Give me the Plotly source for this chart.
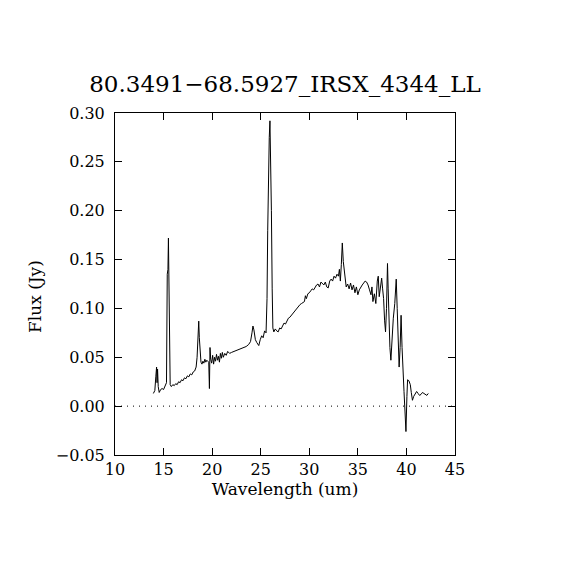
import plotly.graph_objects as go

wavelength = [
    13.95, 14.10, 14.20, 14.28, 14.33, 14.38, 14.45, 14.55, 14.70, 14.85,
    15.00, 15.15, 15.30, 15.38, 15.45, 15.50, 15.56, 15.62, 15.68, 15.80,
    15.95, 16.10, 16.25, 16.40, 16.55, 16.70, 16.85, 17.00, 17.15, 17.30,
    17.45, 17.60, 17.75, 17.90, 18.05, 18.20, 18.35, 18.45, 18.55, 18.62,
    18.68, 18.75, 18.85, 18.95, 19.05, 19.15, 19.25, 19.35, 19.45, 19.55,
    19.65, 19.72, 19.78, 19.85, 19.95, 20.05, 20.15, 20.25, 20.35, 20.45,
    20.55, 20.65, 20.75, 20.85, 20.95, 21.05, 21.15, 21.30, 21.45, 21.60,
    21.80, 22.00, 22.25, 22.50, 22.75, 23.00, 23.25, 23.50, 23.75, 23.95,
    24.10, 24.20, 24.30, 24.45, 24.60, 24.80, 24.95, 25.10, 25.25, 25.40,
    25.55, 25.65, 25.72, 25.80, 25.88, 25.95, 26.02, 26.10, 26.18, 26.25,
    26.35, 26.50, 26.65, 26.80, 26.95, 27.10, 27.25, 27.40, 27.55, 27.70,
    27.85, 28.00, 28.15, 28.30, 28.45, 28.60, 28.75, 28.90, 29.05, 29.20,
    29.35, 29.50, 29.60, 29.70, 29.85, 30.00, 30.15, 30.30, 30.45, 30.60,
    30.75, 30.90, 31.05, 31.20, 31.35, 31.50, 31.65, 31.80, 31.95, 32.10,
    32.25, 32.40, 32.55, 32.70, 32.85, 33.00, 33.10, 33.20, 33.30, 33.40,
    33.50, 33.60, 33.70, 33.80, 33.95, 34.10, 34.25, 34.40, 34.55, 34.70,
    34.85, 35.00, 35.15, 35.30, 35.45, 35.60, 35.75, 35.90, 36.05, 36.20,
    36.35, 36.45, 36.55, 36.70, 36.85, 37.00, 37.10, 37.20, 37.30, 37.45,
    37.55, 37.65, 37.75, 37.85, 37.95, 38.05, 38.12, 38.20, 38.30, 38.40,
    38.50, 38.65, 38.80, 38.95, 39.05, 39.15, 39.25, 39.35, 39.45, 39.55,
    39.65, 39.75, 39.85, 39.95, 40.05, 40.12, 40.25, 40.40, 40.50, 40.62,
    40.75, 40.90, 41.05, 41.20, 41.35, 41.50, 41.65, 41.80, 41.95, 42.10,
    42.25,
]

flux = [
    0.013, 0.016, 0.030, 0.040, 0.024, 0.038, 0.020, 0.014, 0.017, 0.018,
    0.017, 0.020, 0.024, 0.135, 0.140, 0.172, 0.130, 0.060, 0.022, 0.020,
    0.022, 0.021, 0.023, 0.022, 0.025, 0.024, 0.027, 0.026, 0.029, 0.028,
    0.031, 0.030, 0.033, 0.032, 0.035, 0.036, 0.040, 0.050, 0.070, 0.087,
    0.070, 0.055, 0.045, 0.043, 0.046, 0.044, 0.048, 0.045, 0.047, 0.046,
    0.045, 0.018, 0.060, 0.048, 0.044, 0.052, 0.043, 0.050, 0.046, 0.053,
    0.047, 0.051, 0.045, 0.054, 0.049, 0.055, 0.050, 0.054, 0.052, 0.056,
    0.054, 0.055, 0.056, 0.057, 0.058, 0.059, 0.060, 0.061, 0.063, 0.066,
    0.075, 0.082, 0.078, 0.068, 0.065, 0.062, 0.068, 0.072, 0.070, 0.077,
    0.075, 0.110, 0.180, 0.270, 0.275, 0.292, 0.260, 0.200, 0.120, 0.080,
    0.076, 0.079, 0.077, 0.076, 0.080, 0.079, 0.082, 0.085, 0.084, 0.087,
    0.090, 0.091, 0.093, 0.095, 0.097, 0.099, 0.100, 0.102, 0.104, 0.105,
    0.106, 0.107, 0.113, 0.110, 0.115, 0.116, 0.118, 0.120, 0.119, 0.122,
    0.124, 0.125, 0.122, 0.127, 0.125, 0.124, 0.127, 0.122, 0.121, 0.128,
    0.130, 0.128, 0.133, 0.131, 0.135, 0.133, 0.140, 0.128, 0.145, 0.167,
    0.148, 0.140, 0.126, 0.122, 0.125, 0.120, 0.126, 0.119, 0.124, 0.116,
    0.122, 0.114, 0.119, 0.122, 0.124, 0.126, 0.128, 0.127, 0.124, 0.119,
    0.114, 0.122, 0.107, 0.115, 0.105, 0.128, 0.133, 0.112, 0.118, 0.131,
    0.120, 0.110, 0.088, 0.076, 0.100, 0.146, 0.120, 0.074, 0.060, 0.047,
    0.065, 0.090, 0.105, 0.130, 0.100, 0.070, 0.040, 0.060, 0.093, 0.060,
    0.030, 0.015, -0.005, -0.026, 0.010, 0.027, 0.026, 0.022, 0.014, 0.006,
    0.010, 0.013, 0.015, 0.013, 0.011, 0.012, 0.014, 0.013, 0.012, 0.011,
    0.013,
]

title_text = "80.3491\u221268.5927_IRSX_4344_LL"
x_title = "Wavelength (um)"
y_title = "Flux (Jy)"
x_ticks = [10, 15, 20, 25, 30, 35, 40, 45]
y_ticks = [-0.05, 0.00, 0.05, 0.10, 0.15, 0.20, 0.25, 0.30]

FONT = "DejaVu Serif"
OFF = 8  # page body margin offset

fig = go.Figure()
fig.add_trace(go.Scatter(
    x=wavelength, y=flux, mode="lines",
    line=dict(color="black", width=1),
    showlegend=False, hoverinfo="skip",
))

fig.add_shape(type="line", xref="paper", yref="y", x0=0, x1=1, y0=0, y1=0,
              line=dict(color="black", width=1, dash="1px,5px"))

axis_common = dict(
    showline=True, linecolor="black", linewidth=1, mirror="ticks",
    ticks="inside", ticklen=7, tickwidth=1, tickcolor="black",
    showgrid=False, zeroline=False,
    tickfont=dict(family=FONT, size=16, color="black"),
)

fig.update_xaxes(range=[10, 45], tickvals=x_ticks,
                 ticktext=[str(v) for v in x_ticks],
                 title=dict(text=x_title, font=dict(family=FONT, size=17, color="black"), standoff=2),
                 **axis_common)
fig.update_yaxes(range=[-0.05, 0.30], tickvals=y_ticks,
                 ticktext=[("\u2212%.2f" % abs(v)) if v < 0 else "%.2f" % v for v in y_ticks],
                 ticklabelstandoff=6,
                 **axis_common)

# y-axis title as rotated annotation (center at page x~35, y~297)
fig.add_annotation(text=y_title, textangle=-90, showarrow=False,
                   xref="paper", yref="paper",
                   x=(35 - 115) / 340, y=(455 - 297) / 342,
                   xanchor="center", yanchor="middle",
                   font=dict(family=FONT, size=17, color="black"))

fig.update_layout(
    width=570, height=570,
    margin=dict(l=115 - OFF, r=123, t=113 - OFF, b=123, autoexpand=False),
    paper_bgcolor="white", plot_bgcolor="white",
    title=dict(text=title_text, x=(285 - OFF) / 570, xanchor="center", xref="container",
               y=1 - (84 - OFF) / 570, yanchor="middle", yref="container",
               font=dict(family=FONT, size=23, color="black")),
)

fig.write_html("out.html")
